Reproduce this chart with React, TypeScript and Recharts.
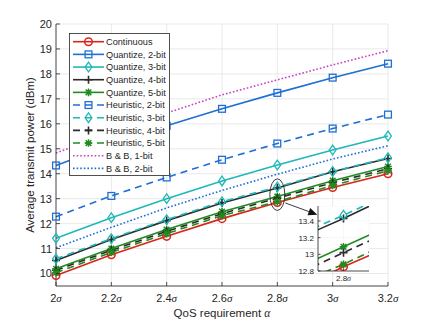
import React from 'react';
import { LineChart, Line, XAxis, YAxis, CartesianGrid, ReferenceDot } from 'recharts';

// ---------- data ----------
const qosValues = [2, 2.2, 2.4, 2.6, 2.8, 3.0, 3.2];
const xTickLabels = ['2', '2.2', '2.4', '2.6', '2.8', '3', '3.2'];
const yTicks = [10, 11, 12, 13, 14, 15, 16, 17, 18, 19, 20];
const insetYTicks = [12.8, 13, 13.2, 13.4];
const insetXTicks = [2.8];

const continuous = [9.92, 10.75, 11.49, 12.2, 12.85, 13.45, 14.0];
const quant2 = [14.33, 15.16, 15.92, 16.6, 17.24, 17.85, 18.41];
const quant3 = [11.41, 12.24, 13.0, 13.71, 14.35, 14.95, 15.51];
const quant4 = [10.52, 11.36, 12.12, 12.83, 13.43, 14.08, 14.61];
const quant5 = [10.19, 11.0, 11.76, 12.48, 13.09, 13.72, 14.29];
const heur2 = [12.28, 13.11, 13.85, 14.56, 15.21, 15.81, 16.37];
const heur3 = [10.59, 11.4, 12.16, 12.88, 13.47, 14.09, 14.64];
const heur4 = [10.13, 10.93, 11.69, 12.4, 13.02, 13.64, 14.2];
const heur5 = [10.03, 10.85, 11.6, 12.32, 12.88, 13.53, 14.12];
const bb1 = [14.83, 15.65, 16.43, 17.16, 17.76, 18.36, 18.93];
const bb2 = [11.03, 11.85, 12.63, 13.33, 13.98, 14.59, 15.12];

// ---------- styles ----------
const RED = '#d9261c';
const BLUE = '#1f6fd4';
const CYAN = '#1fb8b8';
const BLACK = '#2b2b2b';
const GREEN = '#1f8c1f';
const MAGENTA = '#c840c8';
const AXIS = '#262626';
const GRID = '#e3e3e3';
const DASH = '7 5';
const DOT = '1.6 2';
const FONT = '"Liberation Sans", Arial, Helvetica, sans-serif';
const SERIF = '"Liberation Serif", "DejaVu Serif", serif';

type MarkerType = 'circle' | 'square' | 'diamond' | 'plus' | 'star' | 'none';
interface SeriesDef {
  key: string;
  name: string;
  values: number[];
  color: string;
  dash?: string;
  marker: MarkerType;
}

const series: SeriesDef[] = [
  { key: 'continuous', name: 'Continuous', values: continuous, color: RED, marker: 'circle' },
  { key: 'quant2', name: 'Quantize, 2-bit', values: quant2, color: BLUE, marker: 'square' },
  { key: 'quant3', name: 'Quantize, 3-bit', values: quant3, color: CYAN, marker: 'diamond' },
  { key: 'quant4', name: 'Quantize, 4-bit', values: quant4, color: BLACK, marker: 'plus' },
  { key: 'quant5', name: 'Quantize, 5-bit', values: quant5, color: GREEN, marker: 'star' },
  { key: 'heur2', name: 'Heuristic, 2-bit', values: heur2, color: BLUE, dash: DASH, marker: 'square' },
  { key: 'heur3', name: 'Heuristic, 3-bit', values: heur3, color: CYAN, dash: DASH, marker: 'diamond' },
  { key: 'heur4', name: 'Heuristic, 4-bit', values: heur4, color: BLACK, dash: DASH, marker: 'plus' },
  { key: 'heur5', name: 'Heuristic, 5-bit', values: heur5, color: GREEN, dash: DASH, marker: 'star' },
  { key: 'bb1', name: 'B & B, 1-bit', values: bb1, color: MAGENTA, dash: DOT, marker: 'none' },
  { key: 'bb2', name: 'B & B, 2-bit', values: bb2, color: BLUE, dash: DOT, marker: 'none' },
];

const rows = qosValues.map((q, i) => {
  const r: Record<string, number> = { q };
  series.forEach((s) => {
    r[s.key] = s.values[i];
  });
  return r;
});

// ---------- markers ----------
function MarkerShape({ type, cx, cy, color, scale = 1 }: { type: MarkerType; cx?: number; cy?: number; color: string; scale?: number }) {
  if (cx == null || cy == null || type === 'none') return null;
  const sw = 1.3;
  const s = scale;
  switch (type) {
    case 'circle':
      return <circle cx={cx} cy={cy} r={3.8 * s} fill="none" stroke={color} strokeWidth={1.5} />;
    case 'square':
      return <rect x={cx - 3.4 * s} y={cy - 3.4 * s} width={6.8 * s} height={6.8 * s} fill="none" stroke={color} strokeWidth={sw} />;
    case 'diamond':
      return (
        <polygon
          points={`${cx},${cy - 4.8 * s} ${cx + 3.4 * s},${cy} ${cx},${cy + 4.8 * s} ${cx - 3.4 * s},${cy}`}
          fill="none"
          stroke={color}
          strokeWidth={sw}
        />
      );
    case 'plus':
      return (
        <path
          d={`M${cx - 4 * s},${cy}H${cx + 4 * s}M${cx},${cy - 4 * s}V${cy + 4 * s}`}
          stroke={color}
          strokeWidth={1.6}
        />
      );
    case 'star': {
      const a = 3.8 * s;
      const b = 2.8 * s;
      return (
        <path
          d={`M${cx - a},${cy}H${cx + a}M${cx},${cy - a}V${cy + a}M${cx - b},${cy - b}L${cx + b},${cy + b}M${cx - b},${cy + b}L${cx + b},${cy - b}`}
          stroke={color}
          strokeWidth={1.5}
        />
      );
    }
    default:
      return null;
  }
}

function makeDot(s: SeriesDef, scale = 1) {
  if (s.marker === 'none') return false as const;
  return (p: any) => (
    <MarkerShape key={`${s.key}-${p.index}`} type={s.marker} cx={p.cx} cy={p.cy} color={s.color} scale={scale} />
  );
}

// ---------- ticks ----------
const XTickBottom = (labels: Record<number, string>, fontSize: number, dy: number, len: number) => (p: any) => {
  const { x, y, payload } = p;
  const lbl = labels[Math.round(payload.value * 100)] ?? String(payload.value);
  return (
    <g>
      <line x1={x} x2={x} y1={y} y2={y - len} stroke={AXIS} strokeWidth={0.8} />
      <text x={x} y={y + dy} textAnchor="middle" fontSize={fontSize} fontFamily={FONT} fill={AXIS}>
        {lbl}
        <tspan fontStyle="italic" fontFamily={SERIF}>σ</tspan>
      </text>
    </g>
  );
};

const YTickLeft = (fontSize: number, len: number) => (p: any) => {
  const { x, y, payload } = p;
  return (
    <g>
      <line x1={x} x2={x + len} y1={y} y2={y} stroke={AXIS} strokeWidth={0.8} />
      <text x={x - 4} y={y + fontSize * 0.36} textAnchor="end" fontSize={fontSize} fontFamily={FONT} fill={AXIS}>
        {String(payload.value)}
      </text>
    </g>
  );
};

const YTickRight = (len: number) => (p: any) => (
  <line x1={p.x} x2={p.x - len} y1={p.y} y2={p.y} stroke={AXIS} strokeWidth={0.8} />
);
const XTickTop = (len: number) => (p: any) => (
  <line x1={p.x} x2={p.x} y1={p.y} y2={p.y + len} stroke={AXIS} strokeWidth={0.8} />
);

const mainXLabels: Record<number, string> = {};
qosValues.forEach((q, i) => {
  mainXLabels[Math.round(q * 100)] = xTickLabels[i];
});

// ---------- annotation ----------
const ZoomMark = (p: any) => {
  const { cx, cy } = p;
  if (cx == null || cy == null) return <g />;
  const sx = cx + 8;
  const sy = cy + 8.3;
  const tx = cx + 40;
  const ty = cy + 20;
  const dx = tx - sx;
  const dy = ty - sy;
  const L = Math.hypot(dx, dy);
  const ux = dx / L;
  const uy = dy / L;
  const bx = tx - 9 * ux;
  const by = ty - 9 * uy;
  const w = 3.8;
  return (
    <g>
      <ellipse cx={cx} cy={cy} rx={7.5} ry={15.8} fill="none" stroke={AXIS} strokeWidth={0.9} />
      <line x1={sx} y1={sy} x2={bx} y2={by} stroke={AXIS} strokeWidth={0.9} />
      <polygon points={`${tx},${ty} ${bx - uy * w},${by + ux * w} ${bx + uy * w},${by - ux * w}`} fill="#111" />
    </g>
  );
};

// ---------- layout constants ----------
const W = 429;
const H = 322;
const PLOT_L = 56;
const PLOT_R = 388;
const PLOT_T = 24;
const PLOT_B = 286;

const INSET_L = 318;
const INSET_T = 206;
const INSET_W = 51;
const INSET_H = 65;
const INSET_YAXIS_W = 30;

export default function App() {
  const legendRowY = (i: number) => 41.7 + i * 12.67;
  return (
    <div style={{ position: 'absolute', left: 0, top: 0, width: W, height: H, background: '#fff', fontFamily: FONT }}>
      <div style={{ position: 'absolute', left: 0, top: 0 }}>
        <LineChart width={W} height={H} data={rows} margin={{ top: PLOT_T, right: W - PLOT_R, bottom: 0, left: 0 }}>
          <CartesianGrid stroke={GRID} strokeWidth={0.8} />
          <XAxis
            dataKey="q"
            type="number"
            domain={[2, 3.2]}
            ticks={qosValues}
            height={H - PLOT_B}
            tickSize={0}
            tickMargin={0}
            axisLine={{ stroke: AXIS, strokeWidth: 0.8 }}
            tick={XTickBottom(mainXLabels, 11, 16, 4)}
            interval={0}
          />
          <XAxis
            xAxisId="top"
            orientation="top"
            dataKey="q"
            type="number"
            domain={[2, 3.2]}
            ticks={qosValues}
            height={0}
            tickSize={0}
            tickMargin={0}
            axisLine={{ stroke: AXIS, strokeWidth: 0.8 }}
            tick={XTickTop(4)}
            interval={0}
          />
          <YAxis
            type="number"
            domain={[9.5, 20]}
            ticks={yTicks}
            width={PLOT_L}
            tickSize={0}
            tickMargin={0}
            axisLine={{ stroke: AXIS, strokeWidth: 0.8 }}
            tick={YTickLeft(11, 4)}
            interval={0}
          />
          <YAxis
            yAxisId="right"
            orientation="right"
            type="number"
            domain={[9.5, 20]}
            ticks={yTicks}
            width={0}
            tickSize={0}
            tickMargin={0}
            axisLine={{ stroke: AXIS, strokeWidth: 0.8 }}
            tick={YTickRight(4)}
            interval={0}
          />
          {series.map((s) => (
            <Line
              key={s.key}
              dataKey={s.key}
              name={s.name}
              type="linear"
              stroke={s.color}
              strokeWidth={1.6}
              strokeDasharray={s.dash}
              dot={makeDot(s)}
              activeDot={false}
              isAnimationActive={false}
            />
          ))}
          <ReferenceDot x={2.8} y={13.16} r={0} ifOverflow="visible" shape={ZoomMark} />
        </LineChart>
      </div>

      {/* overlay: legend and axis titles */}
      <svg width={W} height={H} style={{ position: 'absolute', left: 0, top: 0, pointerEvents: 'none' }}>
        <text
          x={31}
          y={155}
          transform="rotate(-90 31 155)"
          textAnchor="middle"
          dominantBaseline="middle"
          fontSize={11.5}
          fontFamily={FONT}
          fill={AXIS}
        >
          Average transmit power (dBm)
        </text>
        <text x={222} y={317} textAnchor="middle" fontSize={11.5} fontFamily={FONT} fill={AXIS}>
          QoS requirement <tspan fontStyle="italic" fontFamily={SERIF}>α</tspan>
        </text>
        <rect x={69.5} y={33.5} width={100} height={142} fill="#fff" stroke={AXIS} strokeWidth={0.8} />
        {series.map((s, i) => {
          const cy = legendRowY(i);
          return (
            <g key={s.key}>
              <line
                x1={73}
                x2={104}
                y1={cy}
                y2={cy}
                stroke={s.color}
                strokeWidth={1.6}
                strokeDasharray={s.dash}
              />
              <MarkerShape type={s.marker} cx={88.5} cy={cy} color={s.color} />
              <text x={106} y={cy + 3.3} fontSize={9.2} fontFamily={FONT} fill={AXIS}>
                {s.name}
              </text>
            </g>
          );
        })}
      </svg>

      {/* inset */}
      <div style={{ position: 'absolute', left: INSET_L - INSET_YAXIS_W, top: INSET_T }}>
        <LineChart
          width={INSET_YAXIS_W + INSET_W + 2}
          height={INSET_H + 16}
          data={rows}
          margin={{ top: 0, right: 2, bottom: 0, left: 0 }}
        >
          <CartesianGrid fill="#fff" fillOpacity={1} stroke="#f2f2f2" strokeWidth={0.6} />
          <XAxis
            dataKey="q"
            type="number"
            domain={[2.755, 2.845]}
            allowDataOverflow
            ticks={insetXTicks}
            height={16}
            tickSize={0}
            tickMargin={0}
            axisLine={{ stroke: AXIS, strokeWidth: 0.8 }}
            tick={XTickBottom(mainXLabels, 8, 10, 2.5)}
            interval={0}
          />
          <XAxis
            xAxisId="top"
            orientation="top"
            dataKey="q"
            type="number"
            domain={[2.755, 2.845]}
            allowDataOverflow
            ticks={insetXTicks}
            height={0}
            tickSize={0}
            tickMargin={0}
            axisLine={{ stroke: AXIS, strokeWidth: 0.8 }}
            tick={XTickTop(2.5)}
            interval={0}
          />
          <YAxis
            type="number"
            domain={[12.8, 13.58]}
            allowDataOverflow
            ticks={insetYTicks}
            width={INSET_YAXIS_W}
            tickSize={0}
            tickMargin={0}
            axisLine={{ stroke: AXIS, strokeWidth: 0.8 }}
            tick={YTickLeft(8, 2.5)}
            interval={0}
          />
          <YAxis
            yAxisId="right"
            orientation="right"
            type="number"
            domain={[12.8, 13.58]}
            allowDataOverflow
            ticks={insetYTicks}
            width={0}
            tickSize={0}
            tickMargin={0}
            axisLine={{ stroke: AXIS, strokeWidth: 0.8 }}
            tick={YTickRight(2.5)}
            interval={0}
          />
          {series.map((s) => (
            <Line
              key={s.key}
              dataKey={s.key}
              type="linear"
              stroke={s.color}
              strokeWidth={1.6}
              strokeDasharray={s.dash}
              dot={makeDot(s)}
              activeDot={false}
              isAnimationActive={false}
            />
          ))}
        </LineChart>
      </div>
    </div>
  );
}
